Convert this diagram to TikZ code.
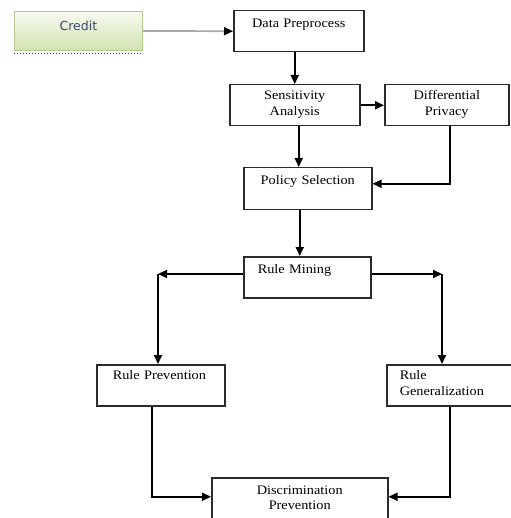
\documentclass[tikz,border=0pt]{standalone}
\usepackage{fontspec}
\setmainfont[FakeStretch=1.1]{Liberation Serif}
\newfontfamily\creditfont{DejaVu Sans}
\usetikzlibrary{arrows.meta}
\definecolor{CreditTop}{HTML}{F7FAF0}
\definecolor{CreditBottom}{HTML}{D2E3B2}
\definecolor{CreditEdge}{HTML}{B5CC8E}
\definecolor{CreditText}{HTML}{3C4A6B}
\definecolor{BoxLine}{HTML}{2B2B2B}

\begin{document}
\begin{tikzpicture}[
    x=1pt, y=-1pt,
    box/.style={draw=BoxLine, line width=1.5pt, anchor=north west, inner ysep=0pt,
        inner xsep=0pt, align=center, font=\fontsize{13}{16}\selectfont},
    leftbox/.style={box, align=left},
    credit/.style={draw=CreditEdge, line width=0.8pt, top color=CreditTop,
        bottom color=CreditBottom, anchor=north west, inner sep=0pt, align=center,
        text width=128pt, text height=19.5pt, text depth=19.5pt,
        font=\creditfont\fontsize{12.5}{15}\selectfont, text=CreditText},
    arr/.style={line width=1.7pt, -{Triangle[length=9pt,width=8pt]}}
 ]
\useasboundingbox (0,0) rectangle (510,518);

\node[credit] (credit) at (14,11) {Credit};
\draw [dotted, line width=1pt, gray!60!black] ([yshift=-3pt]credit.south west) -- ([yshift=-3pt]credit.south east);

\node[box, text width=130pt, text height=17pt, text depth=24pt] (data) at (233,10) {Data Preprocess};
\node[box, text width=130pt, text height=15pt, text depth=26pt] (sens) at (229,84) {Sensitivity\\Analysis};
\node[box, text width=124pt, text height=15pt, text depth=26pt] (diff) at (384,84) {Differential\\Privacy};
\node[box, text width=128pt, text height=17pt, text depth=25pt] (policy) at (243,167) {Policy Selection};
\node[leftbox, inner xsep=14pt, text width=99pt, text height=17pt, text depth=24pt] (mining) at (243,256) {Rule Mining};
\node[leftbox, inner xsep=16pt, text width=96pt, text height=15pt, text depth=26pt] (prev) at (96,364) {Rule Prevention};
\node[leftbox, inner xsep=13pt, text width=100pt, text height=15pt, text depth=26pt] (gen) at (386,364) {Rule\\Generalization};
\node[box, text width=176pt, text height=17pt, text depth=26pt, font=\fontsize{13}{15}\selectfont] (disc) at (211,477) {Discrimination\\Prevention};

\coordinate (cl) at (158,274);
\coordinate (cr) at (442,274);

\draw[arr, draw=gray!70, -{Triangle[length=9pt,width=8pt,black]}] (credit.east) -- (data.west);
\draw[arr] (sens.north |- data.south) -- (sens.north);
\draw[arr] (sens.east) -- (diff.west);
\draw[arr] ([xshift=4pt]sens.south) -- ([xshift=4pt]sens.south |- policy.north);
\draw[arr] ([xshift=3pt]diff.south) |- ([yshift=5pt]policy.east);
\draw[arr] ([xshift=-8pt]policy.south) -- ([xshift=-8pt]policy.south |- mining.north);
\draw[arr] (mining.west |- cl) -- (cl);
\draw[arr] (cl) -- (cl |- prev.north);
\draw[arr] (mining.east |- cr) -- (cr);
\draw[arr] (cr) -- (cr |- gen.north);
\draw[arr] ([xshift=-9pt]prev.south) |- ([yshift=2.5pt]disc.west);
\draw[arr] (gen.south) |- ([yshift=2.5pt]disc.east);

\end{tikzpicture}
\end{document}
